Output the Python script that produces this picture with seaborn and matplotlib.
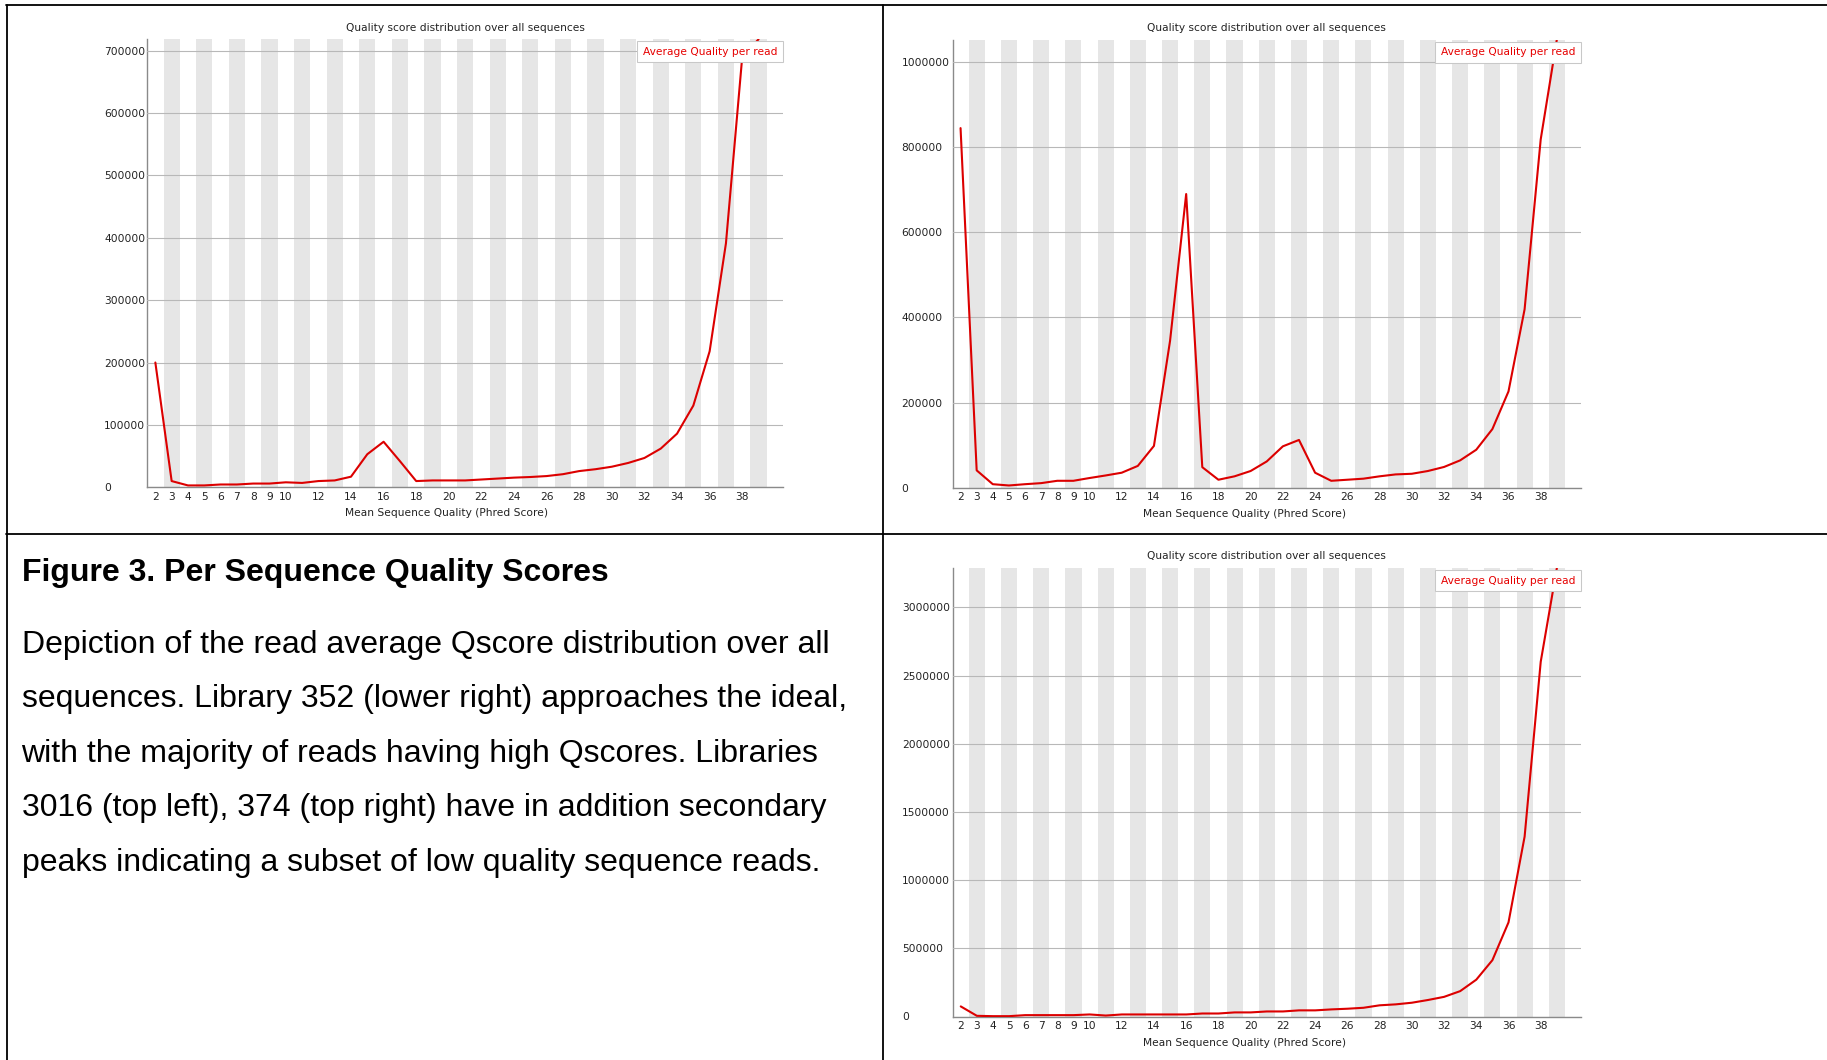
import matplotlib
matplotlib.use("Agg")
import matplotlib.pyplot as plt
from matplotlib.lines import Line2D
import pandas as pd
import seaborn as sns

# Mean read quality bins (Phred score)
quality = list(range(2, 40))
tick_scores = [2, 3, 4, 5, 6, 7, 8, 9, 10] + list(range(12, 40, 2))

# Read counts per mean-quality bin for each library
lib3016_counts = [200000, 10000, 3000, 3000, 4500, 4500, 6000, 6000, 8000, 7000,
                  10000, 11000, 17000, 53000, 73000, 42000, 10000, 11000, 11000, 11000,
                  12500, 14000, 15500, 16500, 18000, 21000, 26000, 29000, 33000, 39000,
                  47000, 62000, 86000, 131000, 218000, 391000, 690000, 718000]
lib374_counts = [845000, 40500, 8000, 5000, 8000, 10500, 16000, 16000, 22500, 28500,
                 35000, 51000, 98000, 345000, 690000, 48000, 18500, 26500, 39000, 61500,
                 97000, 112000, 35000, 16000, 18500, 21000, 26500, 31000, 32500, 39000,
                 48500, 64000, 89000, 137500, 226000, 419000, 818500, 1053000]
lib352_counts = [74000, 5000, 2500, 2500, 10000, 10000, 10000, 10000, 15000, 7000,
                 15000, 15000, 15000, 15000, 15000, 22000, 22000, 30000, 30000, 37000,
                 37000, 45000, 45000, 52000, 57000, 64000, 82000, 89000, 101000, 121000,
                 144000, 186000, 270000, 413000, 690000, 1319000, 2601000, 3287000]

lib3016_yticks = [0, 100000, 200000, 300000, 400000, 500000, 600000, 700000]
lib374_yticks = [0, 200000, 400000, 600000, 800000, 1000000]
lib352_yticks = [0, 500000, 1000000, 1500000, 2000000, 2500000, 3000000]

chart_title = "Quality score distribution over all sequences"
x_label = "Mean Sequence Quality (Phred Score)"
series_label = "Average Quality per read"

caption_title = "Figure 3. Per Sequence Quality Scores"
caption_lines = [
    "Depiction of the read average Qscore distribution over all",
    "sequences. Library 352 (lower right) approaches the ideal,",
    "with the majority of reads having high Qscores. Libraries",
    "3016 (top left), 374 (top right) have in addition secondary",
    "peaks indicating a subset of low quality sequence reads.",
]

sns.set_style("white")
plt.rcParams["font.family"] = ["DejaVu Sans"]

W, H = 1827, 1060
fig = plt.figure(figsize=(W / 100, H / 100), dpi=100)
fig.patch.set_facecolor("white")

SMALL = 7.65
LINE_RED = "#dc0000"


def px_axes(left, top, right, bottom):
    return fig.add_axes([left / W, 1 - bottom / H, (right - left) / W, (bottom - top) / H])


def draw_panel(ax, counts, yticks, label_pad, xlabel_x):
    df = pd.DataFrame({"score": quality, "count": counts})
    # alternating shaded columns for odd scores
    for q in quality:
        if q % 2 == 1:
            ax.axvspan(q - 0.5, q + 0.5, color="#e6e6e6", lw=0, zorder=0.5)
    sns.lineplot(data=df, x="score", y="count", ax=ax, color=LINE_RED,
                 lw=1.5, label=series_label, zorder=3)
    ax.set_xlim(1.5, 40.5)
    ax.set_ylim(0, max(counts))
    ax.set_yticks(yticks)
    ax.set_yticklabels([str(v) for v in yticks])
    ax.set_xticks(tick_scores)
    ax.set_xticklabels([str(v) for v in tick_scores])
    ax.grid(False)
    ax.yaxis.grid(True, color="#b8b8b8", lw=0.8)
    ax.set_axisbelow(False)
    for side in ("top", "right"):
        ax.spines[side].set_visible(False)
    for side in ("left", "bottom"):
        ax.spines[side].set_color("#8a8a8a")
        ax.spines[side].set_linewidth(1.0)
    ax.tick_params(axis="both", length=0, labelsize=SMALL, colors="#222222")
    ax.tick_params(axis="y", pad=label_pad)
    ax.tick_params(axis="x", pad=3.3)
    for lbl in ax.get_yticklabels():
        lbl.set_horizontalalignment("left")
    ax.set_title(chart_title, fontsize=SMALL, pad=6.3, color="#222222")
    ax.set_xlabel(x_label, fontsize=SMALL, color="#222222")
    ax.set_ylabel("")
    ax.xaxis.set_label_coords(xlabel_x, -0.058)
    ax.xaxis.label.set_verticalalignment("center")
    leg = ax.legend(loc="upper right", bbox_to_anchor=(1.0, 1.0 - 2.0 / 448),
                    borderaxespad=0, handlelength=0,
                    handletextpad=0, labelcolor="#e60000", fontsize=SMALL,
                    frameon=True, fancybox=False, edgecolor="#c8c8c8",
                    framealpha=1, borderpad=0.52)
    leg.get_frame().set_linewidth(0.75)


ax_tl = px_axes(147.2, 39.3, 783.0, 487.3)
ax_tr = px_axes(952.5, 39.6, 1581.0, 487.6)
ax_br = px_axes(952.7, 568.2, 1581.0, 1016.5)

draw_panel(ax_tl, lib3016_counts, lib3016_yticks, 31.1, 0.4706)
draw_panel(ax_tr, lib374_counts, lib374_yticks, 36.6, 0.4648)
draw_panel(ax_br, lib352_counts, lib352_yticks, 36.6, 0.4648)

# table rules
def rule(x0, y0, x1, y1, lw=1.3):
    fig.add_artist(Line2D([x0 / W, x1 / W], [1 - y0 / H, 1 - y1 / H],
                          transform=fig.transFigure, color="black", lw=lw))

rule(6, 5, W, 5)
rule(7, 5, 7, H)
rule(882.7, 5, 882.7, H)
rule(6, 533.7, W, 533.7)

# caption cell
fig.text(21.5 / W, 1 - 581 / H, caption_title, fontsize=23, fontweight="bold",
         family=["Liberation Sans", "DejaVu Sans"], va="baseline", color="black")
for i, line in enumerate(caption_lines):
    fig.text(21.5 / W, 1 - (652.5 + i * 54.6) / H, line, fontsize=23,
             family=["Liberation Sans", "DejaVu Sans"], va="baseline", color="black")

fig.savefig("out.png", dpi=100, facecolor="white")
